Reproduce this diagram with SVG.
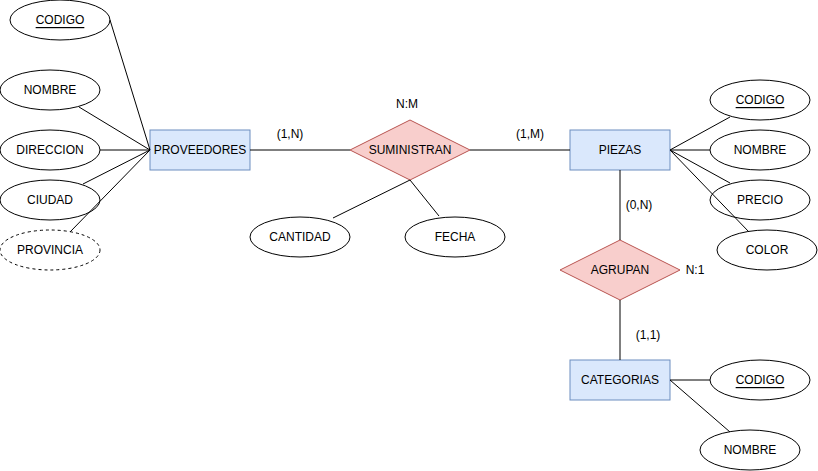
<svg xmlns="http://www.w3.org/2000/svg" width="818" height="471" viewBox="0 0 818 471">
<style>
text{font-family:"Liberation Sans",Arial,sans-serif;font-size:12px;fill:#000;text-anchor:middle;dominant-baseline:central}
.ent{fill:#dae8fc;stroke:#6c8ebf;stroke-width:1}
.rel{fill:#f8cecc;stroke:#b85450;stroke-width:1}
.att{fill:#fff;stroke:#000;stroke-width:1}
.dash{stroke-dasharray:3 3}
.u{text-decoration:underline}
#connectors line{stroke:#000;stroke-width:1}
</style>
<rect width="818" height="471" fill="#fff"/>
<g id="proveedores"><rect class="ent" x="150" y="130" width="100" height="40"/><text x="200" y="150">PROVEEDORES</text></g>
<g id="piezas"><rect class="ent" x="570" y="130" width="100" height="40"/><text x="620" y="150">PIEZAS</text></g>
<g id="categorias"><rect class="ent" x="570" y="360" width="100" height="40"/><text x="620" y="380">CATEGORIAS</text></g>
<g id="suministran"><polygon class="rel" points="350,150 410,120 470,150 410,180"/><text x="410" y="150">SUMINISTRAN</text></g>
<g id="agrupan"><polygon class="rel" points="560,270 620,240 680,270 620,300"/><text x="620" y="270">AGRUPAN</text></g>
<g id="p_codigo"><ellipse class="att" cx="60" cy="20" rx="50" ry="20"/><text class="u" x="60" y="20">CODIGO</text></g>
<g id="p_nombre"><ellipse class="att" cx="50" cy="90" rx="50" ry="20"/><text x="50" y="90">NOMBRE</text></g>
<g id="p_direccion"><ellipse class="att" cx="50" cy="150" rx="50" ry="20"/><text x="50" y="150">DIRECCION</text></g>
<g id="p_ciudad"><ellipse class="att" cx="50" cy="200" rx="50" ry="20"/><text x="50" y="200">CIUDAD</text></g>
<g id="p_provincia"><ellipse class="att dash" cx="50" cy="250" rx="50" ry="20"/><text x="50" y="250">PROVINCIA</text></g>
<g id="s_cantidad"><ellipse class="att" cx="300" cy="237" rx="50" ry="20"/><text x="300" y="237">CANTIDAD</text></g>
<g id="s_fecha"><ellipse class="att" cx="455" cy="237" rx="50" ry="20"/><text x="455" y="237">FECHA</text></g>
<g id="z_codigo"><ellipse class="att" cx="760" cy="100" rx="50" ry="20"/><text class="u" x="760" y="100">CODIGO</text></g>
<g id="z_nombre"><ellipse class="att" cx="760" cy="150" rx="50" ry="20"/><text x="760" y="150">NOMBRE</text></g>
<g id="z_precio"><ellipse class="att" cx="760" cy="200" rx="50" ry="20"/><text x="760" y="200">PRECIO</text></g>
<g id="z_color"><ellipse class="att" cx="767" cy="250" rx="50" ry="20"/><text x="767" y="250">COLOR</text></g>
<g id="c_codigo"><ellipse class="att" cx="760" cy="380" rx="50" ry="20"/><text class="u" x="760" y="380">CODIGO</text></g>
<g id="c_nombre"><ellipse class="att" cx="750" cy="450" rx="50" ry="20"/><text x="750" y="450">NOMBRE</text></g>
<g id="connectors">
<line x1="110" y1="20" x2="150" y2="150"/>
<line x1="79" y1="107" x2="150" y2="150"/>
<line x1="100" y1="150" x2="150" y2="150"/>
<line x1="83" y1="184" x2="150" y2="150"/>
<line x1="70" y1="232" x2="150" y2="150"/>
<line x1="250" y1="150" x2="350" y2="150"/>
<line x1="470" y1="150" x2="570" y2="150"/>
<line x1="410" y1="180" x2="333" y2="218"/>
<line x1="410" y1="180" x2="439" y2="216"/>
<line x1="670" y1="150" x2="730" y2="117"/>
<line x1="670" y1="150" x2="710" y2="150"/>
<line x1="670" y1="150" x2="730" y2="183"/>
<line x1="670" y1="150" x2="749" y2="232"/>
<line x1="620" y1="170" x2="620" y2="240"/>
<line x1="620" y1="300" x2="620" y2="360"/>
<line x1="670" y1="380" x2="710" y2="380"/>
<line x1="670" y1="380" x2="730" y2="432"/>
</g>
<g id="labels">
<text x="407" y="104">N:M</text>
<text x="290" y="134">(1,N)</text>
<text x="530" y="134">(1,M)</text>
<text x="639" y="205">(0,N)</text>
<text x="695" y="270">N:1</text>
<text x="648" y="335">(1,1)</text>
</g>
</svg>
